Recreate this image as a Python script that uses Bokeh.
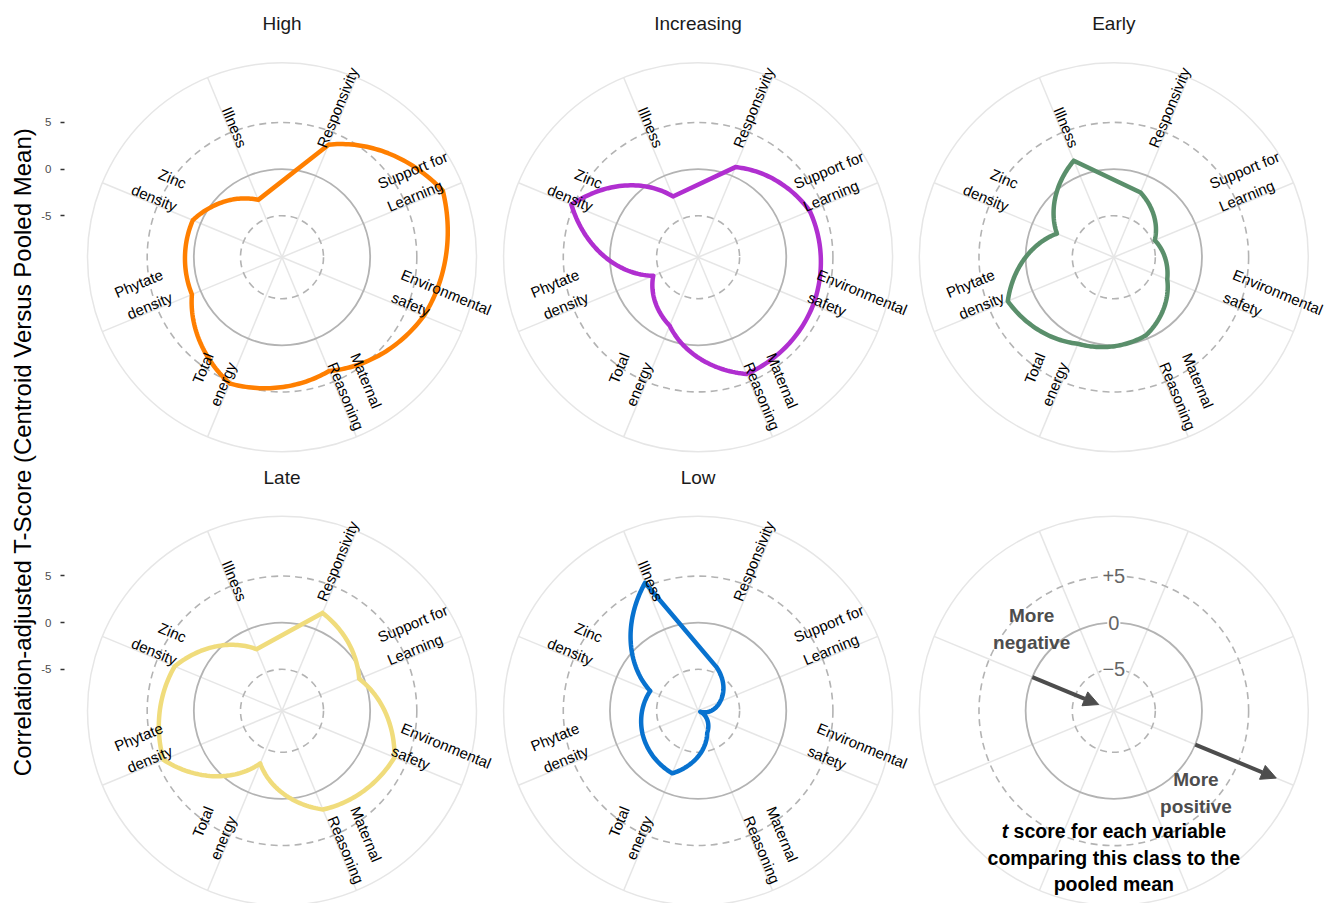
import numpy as np
from bokeh.plotting import figure
from bokeh.models import Range1d, LinearAxis, FixedTicker, Arrow, NormalHead, ColumnDataSource
from bokeh.core.properties import value
from bokeh.embed import file_html
from bokeh.resources import INLINE

# ------------------------------------------------------------------ data
variables = ["Responsivity", "Support for\nLearning", "Environmental\nsafety",
             "Maternal\nReasoning", "Total\nenergy", "Phytate\ndensity",
             "Zinc\ndensity", "Illness"]
class_names = ["High", "Increasing", "Early", "Late", "Low"]
high = [3.6, 9.2, 7.0, 3.75, 5.2, 1.0, 0.9, -2.8]
increasing = [1.0, 3.5, 3.9, 4.1, -1.5, -4.25, 5.25, -2.4]
early = [-1.95, -4.7, -3.25, -0.4, 0.6, 2.85, -2.85, 1.75]
late = [1.9, -0.5, 3.6, 2.0, -3.35, 4.3, 3.0, -2.3]
low = [-4.35, -6.9, -9.2, -6.9, -2.2, -3.0, -3.9, 5.4]
class_values = [high, increasing, early, late, low]
class_colors = ["#FF7F00", "#B02FD0", "#5A8F6B", "#F0DC7C", "#0872CF"]
tick_values = [5, 0, -5]
tick_labels = ["5", "0", "-5"]
key_labels = ["+5", "0", "\u22125"]
y_title = "Correlation-adjusted T-Score (Centroid Versus Pooled Mean)"
key_negative = "More\nnegative"
key_positive = "More\npositive"
key_note = ["score for each variable", "comparing this class to the", "pooled mean"]
arrow_neg = [0, -7.7]   # t from -> to
arrow_pos = [0, 9.4]

# ------------------------------------------------------------------ layout
W, H = 1324, 903
LEFT = 64
K = 9.33          # px per t unit
T0 = -9.45        # t at the centre of each radar
R_OUTER = 194.5
R_LABEL = 117
COLS = [281.5, 697.6, 1113.3]
ROWS = [256.7, 710.3]
FONT = "Liberation Sans"
LIGHT = "#e6e6e6"
MID = "#b3b3b3"

theta = np.deg2rad(22.5 + 45 * np.arange(8))


def rad(t):
    return K * (np.asarray(t, dtype=float) - T0)


def polar_xy(cx, cy, t, th):
    r = rad(t)
    return cx + r * np.sin(th), cy + r * np.cos(th)


p = figure(width=W, height=H, x_range=Range1d(LEFT, W), y_range=Range1d(-H, 0),
           x_axis_type=None, y_axis_type=None, output_backend="svg", toolbar_location=None,
           min_border_left=LEFT, min_border_right=0, min_border_top=0, min_border_bottom=0)
p.outline_line_color = None
p.background_fill_color = "white"

centres = [(COLS[c], -ROWS[r]) for r in range(2) for c in range(3)]

# ---- grid
sx0, sy0, sx1, sy1 = [], [], [], []
for cx, cy in centres:
    for th in theta:
        sx0.append(cx); sy0.append(cy)
        sx1.append(cx + R_OUTER * np.sin(th)); sy1.append(cy + R_OUTER * np.cos(th))
p.segment(sx0, sy0, sx1, sy1, line_color=LIGHT, line_width=1.5)
ccx = [c[0] for c in centres]
ccy = [c[1] for c in centres]
p.circle(ccx, ccy, radius=R_OUTER, fill_color=None, line_color=LIGHT, line_width=1.5)
p.circle(ccx, ccy, radius=float(rad(0)), fill_color=None, line_color=MID, line_width=1.8)
for tv in (5, -5):
    p.circle(ccx, ccy, radius=float(rad(tv)), fill_color=None, line_color=MID,
             line_width=1.6, line_dash="7 5")

# ---- class profiles
for k, (vals, col) in enumerate(zip(class_values, class_colors)):
    cx, cy = centres[k]
    xs, ys = [], []
    for i in range(7):
        th = np.linspace(theta[i], theta[i + 1], 40)
        tt = np.linspace(vals[i], vals[i + 1], 40)
        x, y = polar_xy(cx, cy, tt, th)
        xs.extend(x); ys.extend(y)
    x0, y0 = polar_xy(cx, cy, vals[0], theta[0])
    xs.append(float(x0)); ys.append(float(y0))
    p.line(xs, ys, line_color=col, line_width=4.5, line_join="round", line_cap="round")

# ---- variable labels
for side in ("left", "right"):
    d = dict(x=[], y=[], text=[], angle=[])
    for k in range(5):
        cx, cy = centres[k]
        for i, th in enumerate(theta):
            deg = np.rad2deg(th)
            if (deg < 180) != (side == "left"):
                continue
            a = np.deg2rad(90 - deg) if deg < 180 else np.deg2rad(270 - deg)
            px = cx + R_LABEL * np.sin(th)
            py = cy + R_LABEL * np.cos(th)
            px -= 2.5 * (-np.sin(a)); py -= 2.5 * np.cos(a)
            d["x"].append(px); d["y"].append(py); d["text"].append(variables[i]); d["angle"].append(a)
    p.text(x="x", y="y", text="text", angle="angle", source=ColumnDataSource(d),
           text_font=value(FONT), text_font_size="15px", text_color="black",
           text_align=side, text_baseline="bottom", text_line_height=1.45)

# ---- panel titles
p.text(x=[c[0] for c in centres[:5]], y=[c[1] + 233.5 for c in centres[:5]], text=class_names,
       text_font=value(FONT), text_font_size="19px", text_color="#1a1a1a",
       text_align="center", text_baseline="middle")

# ---- key panel
kx, ky = centres[5]
p.text(x=[kx] * 3, y=[ky + float(rad(t)) for t in tick_values], text=key_labels,
       text_font=value(FONT), text_font_size="20px", text_color="#666666",
       text_align="center", text_baseline="middle", background_fill_color="white", padding=1)
for (tfrom, tto), ang in ((arrow_neg, theta[6]), (arrow_pos, theta[2])):
    xa, ya = polar_xy(kx, ky, tfrom, ang)
    xb, yb = polar_xy(kx, ky, tto, ang)
    p.add_layout(Arrow(end=NormalHead(size=15, fill_color="#4d4d4d", line_color="#4d4d4d", line_width=1),
                       x_start=float(xa), y_start=float(ya), x_end=float(xb), y_end=float(yb),
                       line_color="#4d4d4d", line_width=4))
for txt, ang in ((key_negative, np.deg2rad(315)), (key_positive, np.deg2rad(135))):
    xa, ya = polar_xy(kx, ky, 3.0, ang)
    p.text(x=[float(xa)], y=[float(ya)], text=[txt], text_font=value(FONT), text_font_size="19px",
           text_font_style="bold", text_color="#4d4d4d", text_align="center",
           text_baseline="middle", text_line_height=1.3)
# note lines
note_fs = 19.5
line1_w = 11.505 * note_fs
line_y = [ky - 119.8, ky - 146.8, ky - 173.5]
x_line1 = kx - line1_w / 2
p.text(x=[x_line1], y=[line_y[0]], text=["t"], text_font=value(FONT),
       text_font_size=f"{note_fs}px", text_font_style="bold italic", text_color="black",
       text_align="left", text_baseline="middle")
p.text(x=[x_line1 + (0.333 + 0.278) * note_fs], y=[line_y[0]], text=[key_note[0]],
       text_font=value(FONT), text_font_size=f"{note_fs}px", text_font_style="bold",
       text_color="black", text_align="left", text_baseline="middle")
p.text(x=[kx, kx], y=line_y[1:], text=key_note[1:], text_font=value(FONT),
       text_font_size=f"{note_fs}px", text_font_style="bold", text_color="black",
       text_align="center", text_baseline="middle")

# ---- y axis (left column)
ticks, overrides = [], {}
for cyp in ROWS:
    for tv, tl in zip(tick_values, tick_labels):
        yv = round(float(-cyp + rad(tv)), 3)
        ticks.append(yv)
        overrides[yv] = tl
yaxis = LinearAxis(ticker=FixedTicker(ticks=ticks, minor_ticks=[]), major_label_overrides=overrides,
                   axis_label=y_title, axis_line_color=None,
                   major_tick_line_color="#333333", major_tick_line_width=1.5,
                   major_tick_out=4, major_tick_in=0, minor_tick_line_color=None,
                   major_label_text_color="#4d4d4d", major_label_text_font_size="11.5px",
                   major_label_text_font=FONT, major_label_standoff=9,
                   axis_label_text_font=FONT, axis_label_text_font_size="24px",
                   axis_label_text_font_style="normal", axis_label_text_color="black",
                   axis_label_standoff=2)
p.add_layout(yaxis, "left")

open("out.html", "w").write(file_html(p, INLINE))
